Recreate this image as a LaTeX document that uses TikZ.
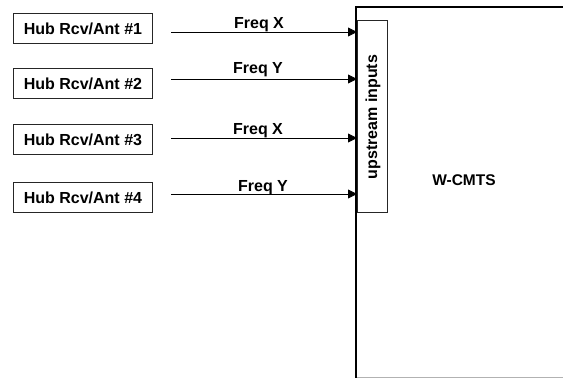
\documentclass[tikz,border=0pt]{standalone}
\usepackage{fontspec}
\setmainfont{Liberation Sans}
\usetikzlibrary{arrows.meta,positioning}
\tikzset{
  >={Triangle[length=9pt,width=9pt]},
  hub/.style={draw=black!85,line width=0.9pt,minimum width=139pt,minimum height=30pt,
    inner sep=0pt,font=\fontsize{16}{18}\selectfont\bfseries},
  upbox/.style={draw=black!85,line width=0.9pt,minimum width=30pt,minimum height=192pt,
    inner sep=0pt},
  freq/.style={font=\fontsize{16}{18}\selectfont\bfseries,inner sep=0pt,anchor=south},
  flow/.style={->,line width=0.8pt,draw=black},
}
\begin{document}
\begin{tikzpicture}[x=1pt,y=-1pt]
  \clip (0,0) rectangle (563,378);
  % W-CMTS frame
  \draw[black!30,line width=0.8pt] (356,377) -- (600,377);
  \draw[line width=2pt] (356,380) -- (356,7) -- (600,7);
  \node[font=\fontsize{15.5}{18}\selectfont\bfseries] (cmts) at (464,180) {W-CMTS};
  \node[upbox,anchor=north west,fill=white] (upin) at (357,20) {};
  \node[font=\fontsize{16}{18}\selectfont\bfseries,rotate=90] (uplabel) at (373,117) {upstream inputs};
  % hub receivers
  \node[hub,anchor=north west] (hub1) at (13,13) {Hub Rcv/Ant \#1};
  \node[hub,anchor=north west] (hub2) at (13,68) {Hub Rcv/Ant \#2};
  \node[hub,anchor=north west] (hub3) at (13,124) {Hub Rcv/Ant \#3};
  \node[hub,anchor=north west] (hub4) at (13,182) {Hub Rcv/Ant \#4};
  % feeds
  \foreach \i/\y/\f/\dy/\dx in {1/32/X/0/-5,2/79/Y/1.5/-6,3/138/X/0/-6,4/194/Y/-1/-1}{
    \coordinate (s\i) at (171,\y);
    \draw[flow] (s\i) -- node[freq,xshift=\dx pt,yshift=\dy pt]{Freq \f} (upin.west |- s\i);
  }
\end{tikzpicture}
\end{document}
